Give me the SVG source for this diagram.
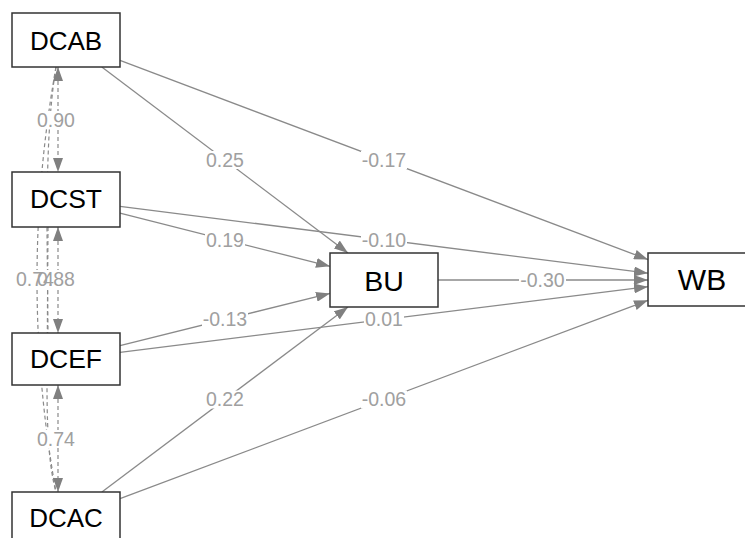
<svg xmlns="http://www.w3.org/2000/svg" width="745" height="538" viewBox="0 0 745 538">
<defs>
<style>
.node rect{fill:#fff;stroke:#333;stroke-width:1.5}
.node text{font-family:"Liberation Sans",Arial,sans-serif;fill:#000;text-anchor:middle}
.edge{fill:none;stroke:#8a8a8a;stroke-width:1.3}
.cov{fill:none;stroke:#8a8a8a;stroke-width:1.2;stroke-dasharray:4 3}
.lbl text{font-family:"Liberation Sans",Arial,sans-serif;font-size:19.5px;fill:#a0a0a0;text-anchor:middle}
.lbl rect{fill:#fff}
</style>
<marker id="ah" viewBox="0 0 14 10" refX="14" refY="5" markerWidth="14" markerHeight="10" markerUnits="userSpaceOnUse" orient="auto-start-reverse">
<path d="M0,0 L14,5 L0,10 z" fill="#808080"/>
</marker>
</defs>
<rect width="745" height="538" fill="#fff"/>
<g id="connectors">
<path class="cov" d="M56,67 Q18,280 56,492"/>
<path class="cov" d="M56,67 C49,110 47,160 47,230 L48,333"/>
<path class="cov" d="M48,227 L47,385 C47,440 50,470 56,492"/>
<path class="cov" d="M58,67 L58,172" marker-start="url(#ah)" marker-end="url(#ah)"/>
<path class="cov" d="M58,227 L58,333" marker-start="url(#ah)" marker-end="url(#ah)"/>
<path class="cov" d="M58,385 L58,492" marker-start="url(#ah)" marker-end="url(#ah)"/>
<path class="edge" d="M101.8,67 L348,253" marker-end="url(#ah)"/>
<path class="edge" d="M120,60.4 L648,259.6" marker-end="url(#ah)"/>
<path class="edge" d="M120,213.2 L330,266.3" marker-end="url(#ah)"/>
<path class="edge" d="M120,206.3 L648,273.2" marker-end="url(#ah)"/>
<path class="edge" d="M120,345.6 L330,293.4" marker-end="url(#ah)"/>
<path class="edge" d="M120,352.3 L648,286.7" marker-end="url(#ah)"/>
<path class="edge" d="M101.9,492 L348,307" marker-end="url(#ah)"/>
<path class="edge" d="M120,498.7 L648,300.3" marker-end="url(#ah)"/>
<path class="edge" d="M438,280 L648,280" marker-end="url(#ah)"/>
</g>
<g id="edge-labels" class="lbl">
<rect x="36" y="111" width="40" height="18"/><text x="56" y="127">0.90</text>
<rect x="15" y="270" width="40" height="18"/>
<rect x="36" y="270" width="40" height="18"/>
<text x="35" y="286">0.74</text><text x="56" y="286">0.88</text>
<rect x="36" y="430" width="40" height="18"/><text x="56" y="446">0.74</text>
<rect x="205" y="151" width="40" height="18"/><text x="225" y="167">0.25</text>
<rect x="361" y="151" width="46" height="18"/><text x="384" y="167">-0.17</text>
<rect x="205" y="231" width="40" height="18"/><text x="225" y="247">0.19</text>
<rect x="361" y="231" width="46" height="18"/><text x="384" y="247">-0.10</text>
<rect x="202" y="310.5" width="46" height="18"/><text x="225" y="326">-0.13</text>
<rect x="364" y="310.5" width="40" height="18"/><text x="384" y="326">0.01</text>
<rect x="205" y="390.5" width="40" height="18"/><text x="225" y="406">0.22</text>
<rect x="361" y="390.5" width="46" height="18"/><text x="384" y="406">-0.06</text>
<rect x="519" y="271" width="47" height="18"/><text x="542.5" y="287">-0.30</text>
</g>
<g id="DCAB" class="node"><rect x="12" y="13" width="108" height="54"/><text x="66" y="50" font-size="26">DCAB</text></g>
<g id="DCST" class="node"><rect x="12" y="172" width="108" height="55"/><text x="66" y="208" font-size="26.5">DCST</text></g>
<g id="DCEF" class="node"><rect x="12" y="333" width="108" height="52"/><text x="66" y="368" font-size="26.5">DCEF</text></g>
<g id="DCAC" class="node"><rect x="12" y="492" width="108" height="54"/><text x="66" y="527" font-size="26">DCAC</text></g>
<g id="BU" class="node"><rect x="330" y="253" width="108" height="54"/><text x="384" y="291" font-size="28.5">BU</text></g>
<g id="WB" class="node"><rect x="648" y="253" width="108" height="53"/><text x="702" y="290" font-size="30">WB</text></g>
</svg>
